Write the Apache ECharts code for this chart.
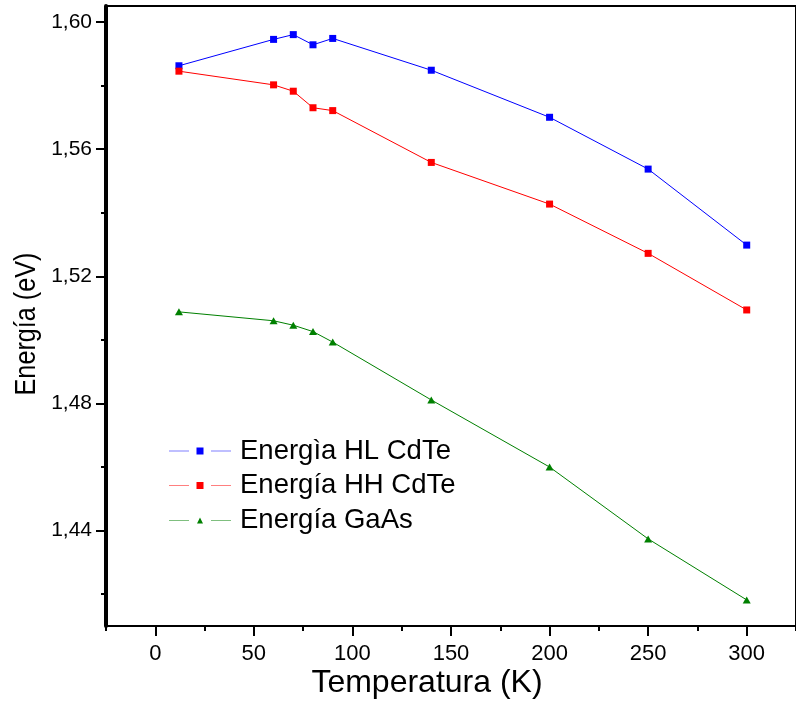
<!DOCTYPE html>
<html>
<head>
<meta charset="utf-8">
<script src="https://cdn.jsdelivr.net/npm/echarts@6/dist/echarts.min.js"></script>
<style>
  html, body { margin: 0; padding: 0; background: #fff; }
  #chart { width: 796px; height: 706px; }
</style>
</head>
<body>
<div id="chart"></div>
<script>
// Temperature (K) of each measurement
const temperatures = [12, 60, 70, 80, 90, 140, 200, 250, 300];

// Transition energies (eV)
const energyHL = [1.5862, 1.5945, 1.5960, 1.5928, 1.5948, 1.5848, 1.5700, 1.5537, 1.5298];
const energyHH = [1.5845, 1.5802, 1.5782, 1.5730, 1.5721, 1.5558, 1.5427, 1.5272, 1.5094];
const energyGaAs = [1.5088, 1.5060, 1.5046, 1.5026, 1.4993, 1.4811, 1.4600, 1.4374, 1.4182];

const seriesNames = ['Energìa HL CdTe', 'Energía HH CdTe', 'Energía GaAs'];

// Axis ticks
const xMajorTicks = [0, 50, 100, 150, 200, 250, 300];
const xMinorTicks = [-25, 25, 75, 125, 175, 225, 275, 325];
const yMajorTicks = [1.44, 1.48, 1.52, 1.56, 1.60];
const yMinorTicks = [1.42, 1.46, 1.50, 1.54, 1.58];

const FONT = '"Liberation Sans", Arial, sans-serif';

function pairs(xs, ys) { return xs.map((x, i) => [x, ys[i]]); }

// Legend glyphs: line, gap, marker, gap, line
const iconSquare = 'path://M0,3.2H20V3.8H0Z M27.5,0H34.5V7H27.5Z M42,3.2H62V3.8H42Z';
const iconTriangle = 'path://M0,3.7H20V4.3H0Z M31,1L34,7H28Z M42,3.7H62V4.3H42Z M0,0H0.01V0.01H0Z';

const chart = echarts.init(document.getElementById('chart'), null, { renderer: 'canvas' });

const axisLineStyle = { color: '#000', width: 2 };
const tickStyle = { color: '#000', width: 2 };

chart.setOption({
  animation: false,
  backgroundColor: '#fff',
  // plot frame
  grid: {
    left: 106, top: 6, right: -6, bottom: 80, containLabel: false,
    show: true, borderColor: '#000', borderWidth: 2, backgroundColor: 'transparent'
  },
  xAxis: [
    {
      type: 'value', position: 'bottom', min: -25, max: 325,
      axisLine: { show: true, onZero: false, lineStyle: axisLineStyle },
      axisTick: { show: true, length: 10, lineStyle: tickStyle, customValues: xMajorTicks },
      axisLabel: { show: true, customValues: xMajorTicks, color: '#000', fontSize: 22, fontFamily: FONT, margin: 17 },
      splitLine: { show: false }
    },
    {
      type: 'value', position: 'bottom', min: -25, max: 325,
      axisLine: { show: false, onZero: false },
      axisTick: { show: true, length: 5, lineStyle: tickStyle, customValues: xMinorTicks },
      axisLabel: { show: false },
      splitLine: { show: false }
    }
  ],
  yAxis: [
    {
      type: 'value', position: 'left', min: 1.41, max: 1.605,
      axisLine: { show: true, onZero: false, lineStyle: { color: '#000', width: 4 } },
      axisTick: { show: true, length: 10, lineStyle: tickStyle, customValues: yMajorTicks },
      axisLabel: {
        show: true, customValues: yMajorTicks, color: '#000', fontSize: 21, fontFamily: FONT, margin: 14,
        formatter: v => v.toFixed(2).replace('.', ',')
      },
      splitLine: { show: false }
    },
    {
      type: 'value', position: 'left', min: 1.41, max: 1.605,
      axisLine: { show: false, onZero: false },
      axisTick: { show: true, length: 5, lineStyle: tickStyle, customValues: yMinorTicks },
      axisLabel: { show: false },
      splitLine: { show: false }
    }
  ],
  legend: {
    orient: 'vertical',
    left: 169, top: 437,
    padding: 0,
    itemWidth: 62, itemHeight: 7,
    itemGap: 6.5,
    symbolKeepAspect: true,
    textStyle: { color: '#000', fontSize: 27.5, fontFamily: FONT, lineHeight: 27, padding: [0, 0, 0, 4] },
    data: [
      { name: seriesNames[0], icon: iconSquare },
      { name: seriesNames[1], icon: iconSquare },
      { name: seriesNames[2], icon: iconTriangle }
    ]
  },
  graphic: [
    {
      type: 'text', x: 427, y: 667, silent: true,
      style: { text: 'Temperatura (K)', fill: '#000', font: '32px ' + FONT, align: 'center', verticalAlign: 'top' }
    },
    {
      type: 'text', x: 12, y: 324, rotation: Math.PI / 2, scaleX: 0.84, silent: true,
      style: { text: 'Energía (eV)', fill: '#000', font: '30px ' + FONT, align: 'center', verticalAlign: 'top' }
    }
  ],
  series: [
    {
      name: seriesNames[0], type: 'line', xAxisIndex: 0, yAxisIndex: 0,
      data: pairs(temperatures, energyHL),
      symbol: 'rect', symbolSize: 7, showAllSymbol: true,
      itemStyle: { color: '#0000ff' }, lineStyle: { color: '#0000ff', width: 1 }
    },
    {
      name: seriesNames[1], type: 'line', xAxisIndex: 0, yAxisIndex: 0,
      data: pairs(temperatures, energyHH),
      symbol: 'rect', symbolSize: 7, showAllSymbol: true,
      itemStyle: { color: '#ff0000' }, lineStyle: { color: '#ff0000', width: 1 }
    },
    {
      name: seriesNames[2], type: 'line', xAxisIndex: 0, yAxisIndex: 0,
      data: pairs(temperatures, energyGaAs),
      symbol: 'triangle', symbolSize: [8, 7], showAllSymbol: true,
      itemStyle: { color: '#008000' }, lineStyle: { color: '#008000', width: 1 }
    }
  ]
});
</script>
</body>
</html>
